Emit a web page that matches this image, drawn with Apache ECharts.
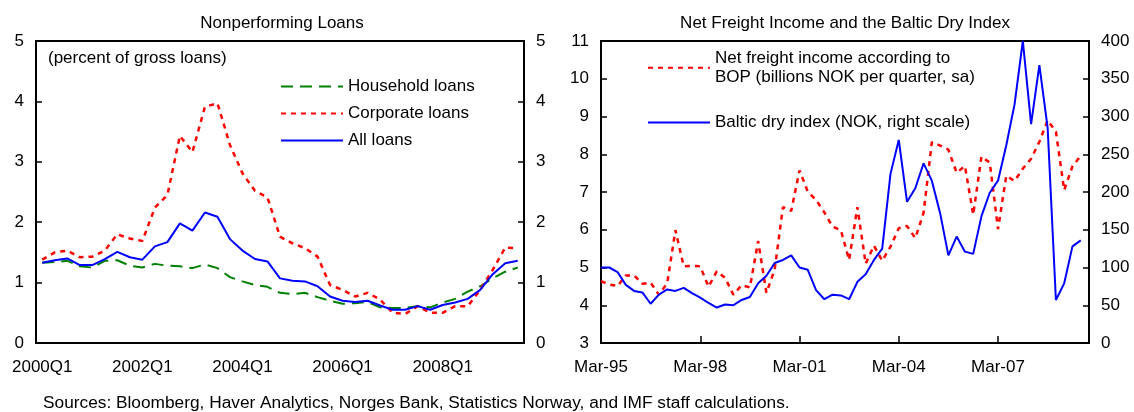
<!DOCTYPE html>
<html>
<head>
<meta charset="utf-8">
<script src="https://cdn.jsdelivr.net/npm/echarts@6/dist/echarts.min.js"></script>
<style>
html, body { margin: 0; padding: 0; background: #fff; }
#chart { width: 1134px; height: 412px; }
</style>
</head>
<body>
<div id="chart"></div>
<script>
// left panel: nonperforming loans, percent of gross loans, 2000Q1 - 2009Q3
const nplQuarters = [];
for (let y = 2000; y <= 2009; y++) {
  for (let q = 1; q <= 4; q++) nplQuarters.push(y + "Q" + q);
}
nplQuarters.length = 39;

const householdLoans = [1.33, 1.34, 1.36, 1.27, 1.25, 1.36, 1.37, 1.28, 1.25, 1.31, 1.28, 1.27, 1.24, 1.30, 1.24, 1.09, 1.02, 0.96, 0.93, 0.83,
  0.81, 0.83, 0.76, 0.70, 0.65, 0.66, 0.68, 0.59, 0.58, 0.58, 0.61, 0.59, 0.67, 0.73, 0.85, 0.94, 1.07, 1.18, 1.25];
const corporateLoans = [1.38, 1.50, 1.53, 1.42, 1.43, 1.53, 1.80, 1.73, 1.69, 2.24, 2.45, 3.43, 3.16, 3.91, 3.97, 3.28, 2.81, 2.52, 2.41, 1.76,
  1.65, 1.57, 1.43, 0.96, 0.88, 0.77, 0.83, 0.72, 0.50, 0.48, 0.61, 0.50, 0.50, 0.61, 0.61, 0.88, 1.21, 1.58, 1.57];
const allLoans = [1.33, 1.37, 1.40, 1.29, 1.29, 1.39, 1.51, 1.42, 1.38, 1.60, 1.67, 1.98, 1.86, 2.16, 2.09, 1.72, 1.53, 1.39, 1.35, 1.07,
  1.03, 1.02, 0.94, 0.77, 0.70, 0.68, 0.70, 0.62, 0.55, 0.55, 0.61, 0.55, 0.63, 0.67, 0.73, 0.88, 1.14, 1.32, 1.36];

// right panel: quarterly, Mar-95 - Dec-09 (data to Sep-09)
const freightQuarters = [];
for (let y = 1995; y <= 2009; y++) {
  ["Mar", "Jun", "Sep", "Dec"].forEach(m => freightQuarters.push(m + "-" + String(y).slice(2)));
}

const netFreight = [4.64, 4.55, 4.51, 4.79, 4.79, 4.57, 4.60, 4.28, 4.58, 5.99, 5.03, 5.04, 5.03, 4.49, 4.90, 4.73, 4.28, 4.53, 4.47, 5.70,
  4.33, 4.95, 6.60, 6.50, 7.57, 7.01, 6.79, 6.46, 6.08, 5.99, 5.20, 6.60, 5.10, 5.58, 5.18, 5.55, 6.04, 6.10, 5.78, 6.45,
  8.32, 8.23, 8.12, 7.51, 7.69, 6.40, 7.94, 7.78, 6.02, 7.43, 7.29, 7.62, 7.88, 8.33, 8.90, 8.60, 7.05, 7.68, 7.96];
const balticDry = [100, 100, 94, 77, 69, 67, 52, 64, 71, 69, 73, 66, 60, 53, 47, 51, 50, 57, 61, 79,
  89, 106, 110, 116, 100, 97, 70, 58, 64, 63, 58, 81, 91, 110, 125, 224, 269, 187, 205, 238,
  215, 172, 116, 141, 121, 118, 168, 199, 215, 262, 316, 400, 290, 368, 285, 57, 79, 128, 136];

const FONT = '"Liberation Sans", Arial, sans-serif';

function xAxisFor(grid, cats, gap, every) {
  return {
    type: "category",
    gridIndex: grid,
    data: cats,
    boundaryGap: gap,
    axisLine: { lineStyle: { color: "#000", width: 2 } },
    axisTick: { inside: true, interval: every, length: 7, lineStyle: { color: "#000", width: 1.5 } },
    axisLabel: { interval: every, color: "#000", fontSize: 17, fontFamily: FONT, margin: 16 },
    splitLine: { show: false }
  };
}

function yAxisFor(grid, pos, min, max, step) {
  return {
    type: "value",
    gridIndex: grid,
    position: pos,
    min: min,
    max: max,
    interval: step,
    axisLine: { show: true, lineStyle: { color: "#000", width: 2 } },
    axisTick: { show: true, inside: true, length: 6, lineStyle: { color: "#000", width: 1.5 } },
    axisLabel: { color: "#000", fontSize: 17, fontFamily: FONT, margin: 12 },
    splitLine: { show: false }
  };
}

const legendText = { color: "#000", fontSize: 17, fontFamily: FONT, lineHeight: 18 };
// hide the round marker that line series put in the middle of their legend icon
const noMarker = { opacity: 0 };

const option = {
  backgroundColor: "#fff",
  animation: false,
  grid: [
    { left: 36, top: 41, width: 488, height: 302, show: true, borderColor: "#000", borderWidth: 2 },
    { left: 601, top: 41, width: 488, height: 302, show: true, borderColor: "#000", borderWidth: 2 }
  ],
  xAxis: [
    xAxisFor(0, nplQuarters, true, 7),
    xAxisFor(1, freightQuarters, false, 11)
  ],
  yAxis: [
    yAxisFor(0, "left", 0, 5, 1),
    yAxisFor(0, "right", 0, 5, 1),
    yAxisFor(1, "left", 3, 11, 1),
    yAxisFor(1, "right", 0, 400, 50)
  ],
  legend: [
    {
      data: ["Household loans", "Corporate loans", "All loans"],
      orient: "vertical",
      left: 280,
      top: 77.5,
      padding: 0,
      itemWidth: 62,
      itemHeight: 14,
      itemGap: 9,
      itemStyle: noMarker,
      textStyle: legendText
    },
    {
      data: ["Net freight income according to\nBOP (billions NOK per quarter, sa)"],
      left: 647,
      top: 40,
      padding: 0,
      itemWidth: 62,
      itemHeight: 14,
      itemStyle: noMarker,
      textStyle: Object.assign({}, legendText, { lineHeight: 18.5, padding: [18.5, 0, 0, 0] })
    },
    {
      data: ["Baltic dry index (NOK, right scale)"],
      left: 647,
      top: 113.5,
      padding: 0,
      itemWidth: 62,
      itemHeight: 14,
      itemStyle: noMarker,
      textStyle: legendText
    }
  ],
  graphic: [
    { type: "text", x: 282, y: 23, style: { text: "Nonperforming Loans", font: "17px " + FONT, fill: "#000", align: "center", verticalAlign: "middle" } },
    { type: "text", x: 845, y: 23, style: { text: "Net Freight Income and the Baltic Dry Index", font: "17px " + FONT, fill: "#000", align: "center", verticalAlign: "middle" } },
    { type: "text", x: 48, y: 58, style: { text: "(percent of gross loans)", font: "17px " + FONT, fill: "#000", align: "left", verticalAlign: "middle" } },
    { type: "text", x: 43, y: 403, style: { text: "Sources: Bloomberg, Haver Analytics, Norges Bank, Statistics Norway, and IMF staff calculations.", font: "17.3px " + FONT, fill: "#000", align: "left", verticalAlign: "middle" } }
  ],
  series: [
    {
      name: "Household loans", type: "line", xAxisIndex: 0, yAxisIndex: 0, symbol: "none",
      data: householdLoans,
      itemStyle: { color: "#008000" },
      lineStyle: { color: "#008000", width: 2, type: [12, 7] }
    },
    {
      name: "Corporate loans", type: "line", xAxisIndex: 0, yAxisIndex: 0, symbol: "none",
      data: corporateLoans,
      itemStyle: { color: "#ff0000" },
      lineStyle: { color: "#ff0000", width: 2.5, type: [5, 5] }
    },
    {
      name: "All loans", type: "line", xAxisIndex: 0, yAxisIndex: 0, symbol: "none",
      data: allLoans,
      itemStyle: { color: "#0000ff" },
      lineStyle: { color: "#0000ff", width: 2 }
    },
    {
      name: "Net freight income according to\nBOP (billions NOK per quarter, sa)", type: "line", xAxisIndex: 1, yAxisIndex: 2, symbol: "none",
      data: netFreight,
      itemStyle: { color: "#ff0000" },
      lineStyle: { color: "#ff0000", width: 2.5, type: [5, 5] }
    },
    {
      name: "Baltic dry index (NOK, right scale)", type: "line", xAxisIndex: 1, yAxisIndex: 3, symbol: "none",
      data: balticDry,
      itemStyle: { color: "#0000ff" },
      lineStyle: { color: "#0000ff", width: 2 }
    }
  ]
};

const myChart = echarts.init(document.getElementById("chart"));
myChart.setOption(option);
</script>
</body>
</html>
